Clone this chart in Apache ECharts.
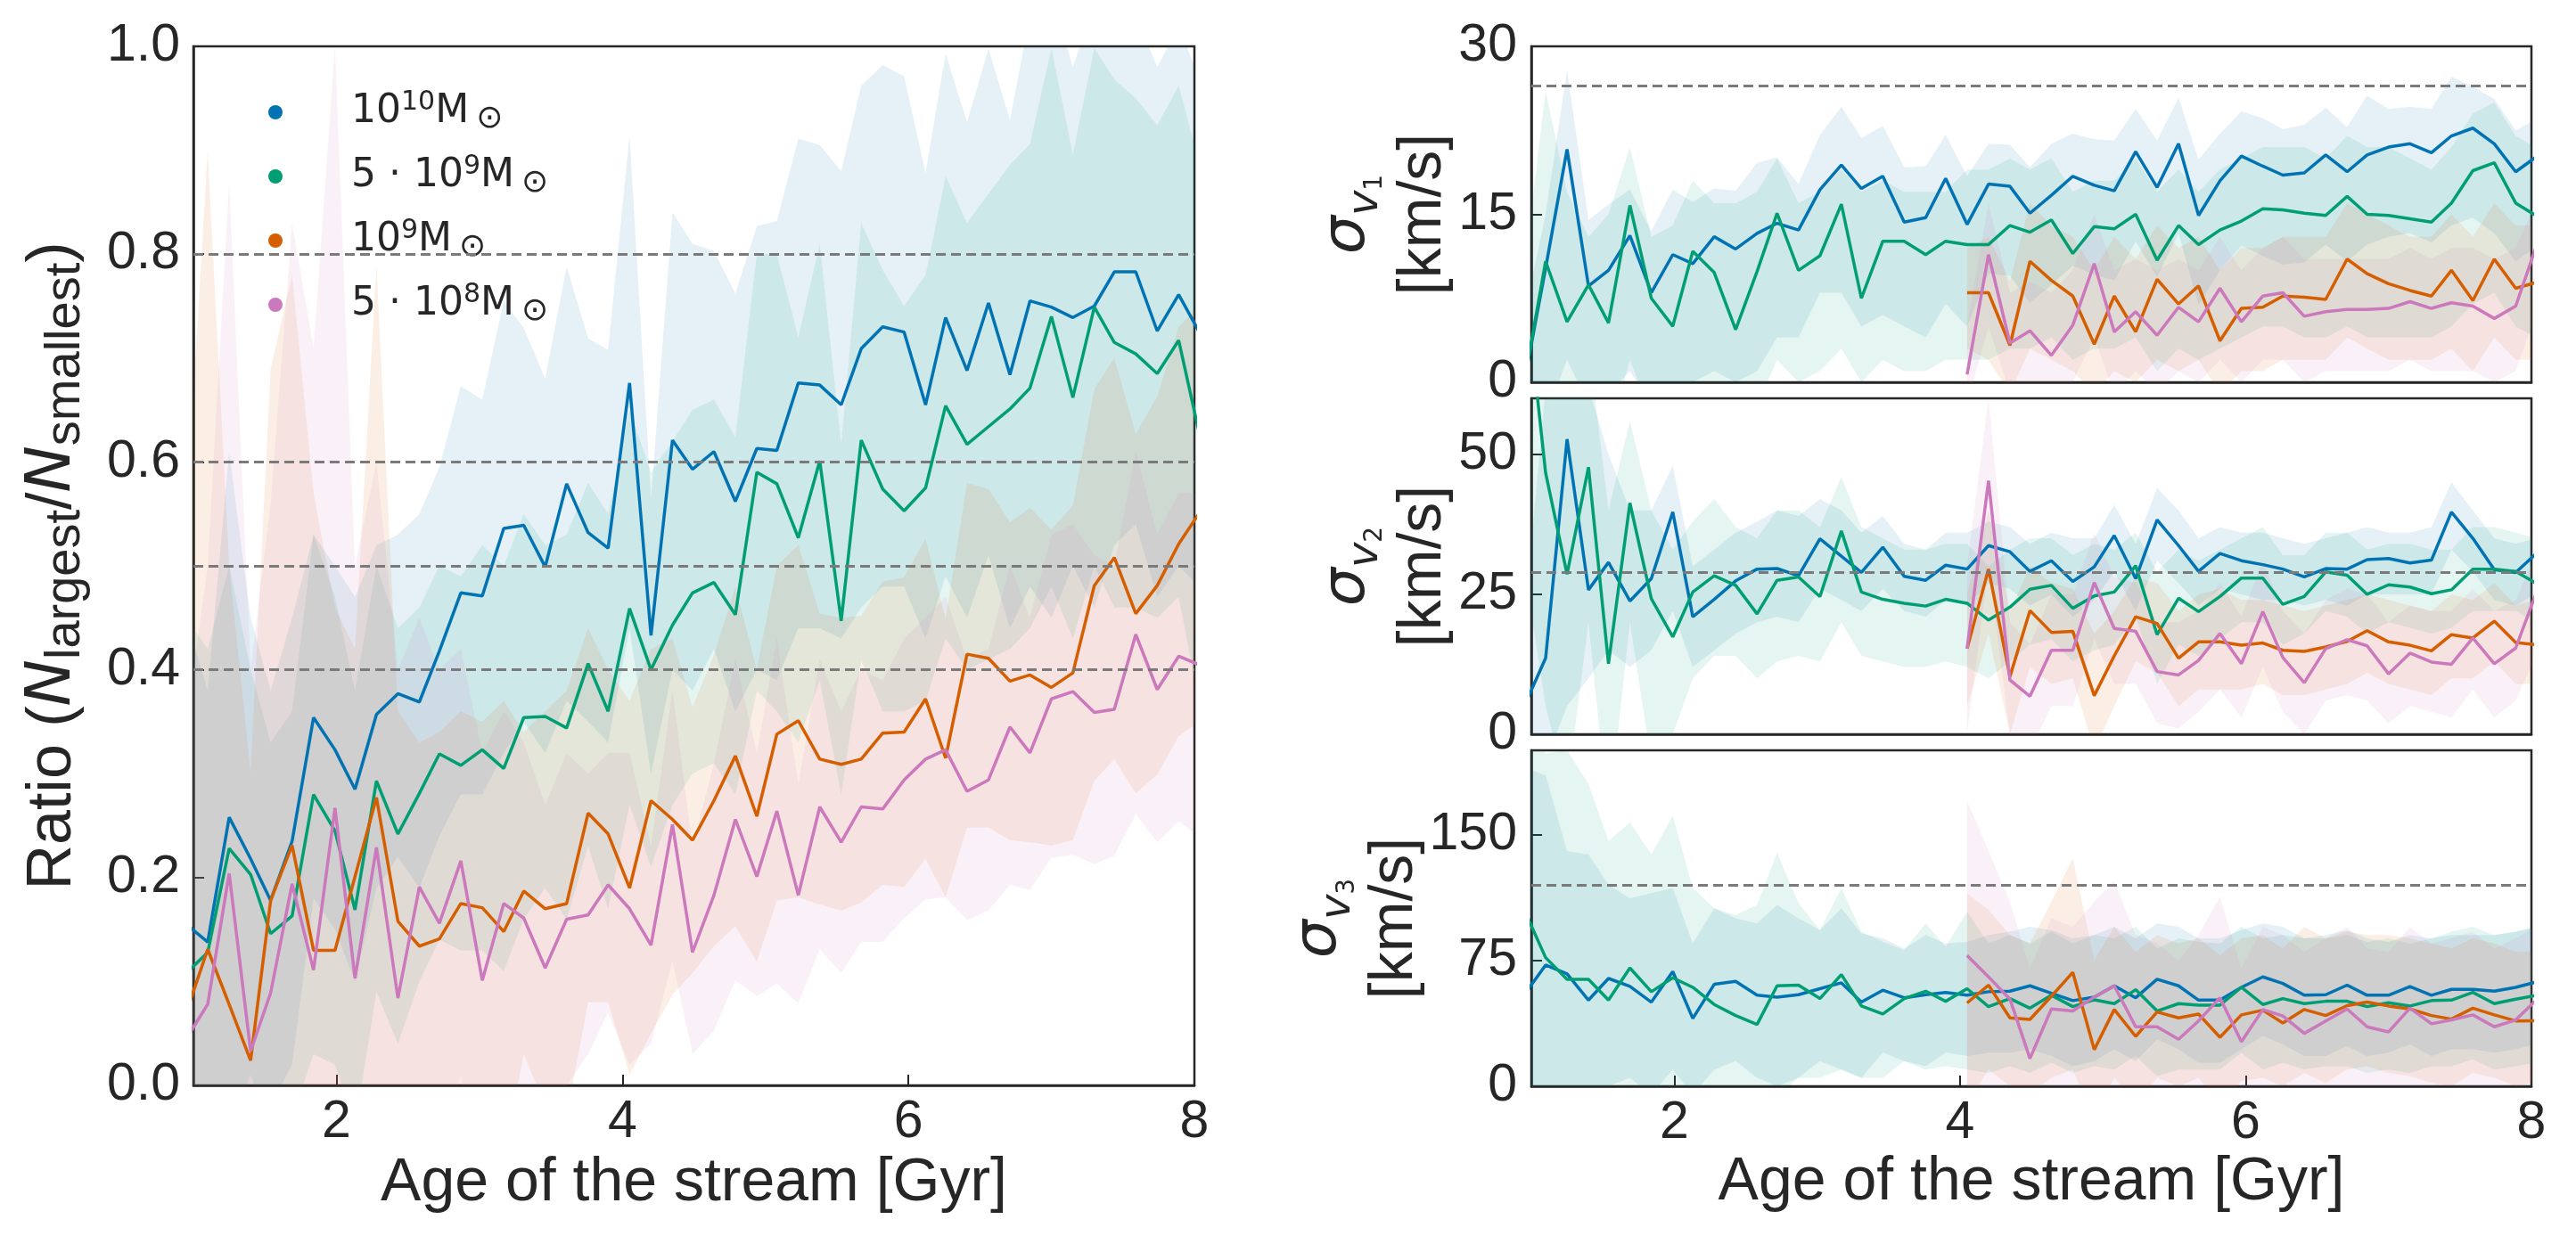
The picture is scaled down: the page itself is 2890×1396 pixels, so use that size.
<!DOCTYPE html>
<html>
<head>
	<meta charset="utf-8" />
	<title>Stream ratio and velocity dispersion</title>
	<script src="https://cdn.jsdelivr.net/npm/echarts@6/dist/echarts.min.js"></script>
	<style>html,body{margin:0;padding:0;background:#fff;}</style>
</head>
<body>
	<div id="main" style="width:2890px;height:1396px;"></div>
	<script type="text/javascript">

		// age of the stream [Gyr] for every snapshot (first and last fall just outside the plotted range)
		var ages = [0.95, 1.10, 1.25, 1.40, 1.54, 1.69, 1.84, 1.99, 2.13, 2.28, 2.43, 2.58, 2.72, 2.87, 3.02, 3.17, 3.31, 3.46, 3.61, 3.76, 3.90, 4.05, 4.20, 4.35, 4.49, 4.64, 4.79, 4.94, 5.08, 5.23, 5.38, 5.53, 5.67, 5.82, 5.97, 6.12, 6.26, 6.41, 6.56, 6.71, 6.85, 7.00, 7.15, 7.30, 7.44, 7.59, 7.74, 7.89, 8.03];
		var lateStart = 21;   // lighter hosts only start at 4.05 Gyr in the dispersion panels

		var massNames = ['1e10', '5e9', '1e9', '5e8'];
		var massColors = ['#0173b2', '#029e73', '#d55e00', '#cc78bc'];

		// ---- left: ratio N_largest / N_smallest ----
		var ratio_m10 = [0.155, 0.138, 0.258, 0.218, 0.178, 0.235, 0.354, 0.323, 0.285, 0.357, 0.377, 0.369, 0.418, 0.474, 0.471, 0.536, 0.539, 0.499, 0.579, 0.532, 0.517, 0.676, 0.433, 0.621, 0.593, 0.610, 0.562, 0.613, 0.611, 0.676, 0.674, 0.655, 0.709, 0.730, 0.725, 0.655, 0.739, 0.688, 0.753, 0.684, 0.755, 0.749, 0.739, 0.750, 0.783, 0.783, 0.726, 0.761, 0.726];
		var ratio_m10_hi = [0.45, 0.38, 0.61, 0.45, 0.38, 0.45, 0.53, 0.50, 0.47, 0.52, 0.53, 0.55, 0.595, 0.673, 0.66, 0.755, 0.729, 0.68, 0.788, 0.719, 0.708, 0.914, 0.565, 0.84, 0.81, 0.803, 0.762, 0.827, 0.832, 0.911, 0.905, 0.88, 0.962, 0.982, 0.971, 0.878, 0.993, 0.927, 0.998, 0.929, 1.03, 1.05, 0.98, 1.04, 1.05, 1.03, 0.98, 1.02, 0.97];
		var ratio_m10_lo = [-0.14, -0.10, -0.09, -0.01, -0.02, 0.02, 0.18, 0.15, 0.10, 0.19, 0.22, 0.19, 0.24, 0.28, 0.28, 0.32, 0.35, 0.32, 0.37, 0.35, 0.33, 0.44, 0.30, 0.40, 0.38, 0.42, 0.36, 0.40, 0.39, 0.44, 0.44, 0.43, 0.46, 0.48, 0.48, 0.43, 0.49, 0.45, 0.51, 0.44, 0.48, 0.45, 0.50, 0.46, 0.52, 0.54, 0.47, 0.50, 0.48];

		var ratio_m5e9 = [0.108, 0.128, 0.228, 0.203, 0.146, 0.163, 0.28, 0.245, 0.169, 0.293, 0.242, 0.281, 0.319, 0.308, 0.323, 0.305, 0.354, 0.355, 0.344, 0.406, 0.36, 0.459, 0.40, 0.443, 0.474, 0.484, 0.453, 0.59, 0.579, 0.527, 0.601, 0.447, 0.621, 0.574, 0.553, 0.575, 0.654, 0.617, 0.634, 0.651, 0.671, 0.74, 0.662, 0.749, 0.715, 0.704, 0.685, 0.717, 0.63];
		var ratio_m5e9_hi = [0.45, 0.42, 0.50, 0.40, 0.33, 0.36, 0.53, 0.47, 0.38, 0.50, 0.44, 0.46, 0.50, 0.49, 0.52, 0.50, 0.55, 0.52, 0.53, 0.58, 0.55, 0.65, 0.59, 0.62, 0.65, 0.66, 0.624, 0.80, 0.80, 0.72, 0.81, 0.617, 0.83, 0.785, 0.75, 0.78, 0.875, 0.83, 0.858, 0.886, 0.906, 0.998, 0.896, 0.998, 0.968, 0.95, 0.924, 0.962, 0.89];
		var ratio_m5e9_lo = [-0.23, -0.16, -0.04, 0.01, -0.04, -0.03, 0.03, 0.02, -0.04, 0.09, 0.04, 0.10, 0.14, 0.13, 0.13, 0.11, 0.16, 0.19, 0.16, 0.23, 0.17, 0.27, 0.21, 0.27, 0.30, 0.31, 0.28, 0.38, 0.36, 0.33, 0.39, 0.28, 0.41, 0.36, 0.36, 0.37, 0.43, 0.40, 0.41, 0.42, 0.44, 0.48, 0.43, 0.50, 0.46, 0.46, 0.45, 0.47, 0.37];

		var ratio_m1e9 = [0.07, 0.131, 0.078, 0.024, 0.178, 0.231, 0.130, 0.130, 0.201, 0.277, 0.158, 0.134, 0.141, 0.175, 0.171, 0.148, 0.187, 0.170, 0.175, 0.262, 0.242, 0.19, 0.274, 0.256, 0.236, 0.274, 0.317, 0.259, 0.338, 0.351, 0.314, 0.309, 0.314, 0.339, 0.34, 0.372, 0.315, 0.415, 0.411, 0.389, 0.395, 0.383, 0.397, 0.481, 0.508, 0.454, 0.481, 0.521, 0.55];
		var ratio_m1e9_hi = [0.55, 0.90, 0.50, 0.30, 0.69, 0.78, 0.57, 0.46, 0.42, 0.79, 0.36, 0.33, 0.34, 0.36, 0.35, 0.37, 0.34, 0.36, 0.38, 0.44, 0.40, 0.37, 0.42, 0.43, 0.364, 0.414, 0.48, 0.40, 0.50, 0.52, 0.454, 0.45, 0.452, 0.485, 0.489, 0.526, 0.449, 0.58, 0.574, 0.542, 0.556, 0.535, 0.558, 0.67, 0.70, 0.627, 0.663, 0.73, 0.75];
		var ratio_m1e9_lo = [-0.30, -0.50, -0.30, -0.25, -0.33, -0.30, -0.30, -0.20, -0.02, -0.24, -0.04, -0.06, -0.06, -0.01, -0.01, -0.07, 0.03, -0.02, -0.03, 0.08, 0.08, 0.01, 0.05, 0.087, 0.108, 0.134, 0.153, 0.119, 0.178, 0.181, 0.174, 0.168, 0.176, 0.193, 0.191, 0.218, 0.181, 0.248, 0.248, 0.236, 0.234, 0.231, 0.236, 0.293, 0.314, 0.281, 0.299, 0.336, 0.35];

		var ratio_m5e8 = [0.045, 0.078, 0.204, 0.033, 0.089, 0.194, 0.111, 0.267, 0.103, 0.229, 0.084, 0.191, 0.156, 0.216, 0.101, 0.175, 0.161, 0.113, 0.160, 0.164, 0.193, 0.17, 0.135, 0.251, 0.128, 0.183, 0.256, 0.201, 0.264, 0.183, 0.268, 0.234, 0.268, 0.266, 0.294, 0.314, 0.323, 0.283, 0.294, 0.345, 0.32, 0.372, 0.379, 0.359, 0.362, 0.434, 0.381, 0.413, 0.405];
		var ratio_m5e8_hi = [0.35, 0.50, 0.87, 0.40, 0.56, 0.83, 0.71, 1.00, 0.50, 0.60, 0.40, 0.45, 0.40, 0.42, 0.32, 0.36, 0.33, 0.27, 0.32, 0.30, 0.32, 0.32, 0.23, 0.38, 0.23, 0.31, 0.41, 0.32, 0.43, 0.29, 0.41, 0.36, 0.40, 0.39, 0.43, 0.45, 0.47, 0.41, 0.42, 0.50, 0.45, 0.53, 0.54, 0.51, 0.50, 0.61, 0.53, 0.57, 0.57];
		var ratio_m5e8_lo = [-0.26, -0.34, -0.46, -0.33, -0.38, -0.44, -0.49, -0.47, -0.29, -0.14, -0.23, -0.07, -0.09, 0.01, -0.12, -0.01, -0.01, -0.04, 0.0, 0.03, 0.07, 0.02, 0.04, 0.12, 0.03, 0.053, 0.101, 0.086, 0.098, 0.079, 0.131, 0.108, 0.138, 0.138, 0.161, 0.179, 0.181, 0.159, 0.168, 0.193, 0.188, 0.219, 0.222, 0.213, 0.221, 0.261, 0.234, 0.254, 0.24];

		var ratioGuides = [0.4, 0.5, 0.6, 0.8];

		// ---- sigma_v1 [km/s] ----
		var v1_m10 = [0, 10.2, 20.8, 8.6, 10.0, 13.1, 8.0, 11.4, 10.6, 13.0, 11.9, 13.3, 14.2, 13.6, 17.2, 19.4, 17.3, 18.4, 14.3, 14.7, 18.2, 14.1, 17.7, 17.5, 15.1, 16.7, 18.4, 17.6, 17.1, 20.6, 17.4, 21.3, 14.9, 18.0, 20.2, 19.3, 18.5, 18.7, 20.3, 18.8, 20.3, 21.0, 21.3, 20.5, 22.0, 22.7, 21.3, 18.8, 20.1];
		var v1_m10_hi = [6, 15, 27.9, 14.5, 15.9, 17.2, 13.5, 17.2, 16.1, 17.3, 17.1, 19.6, 20.1, 17.7, 22.1, 24.6, 21.8, 22.9, 19.2, 19.3, 22.1, 18.4, 21.3, 21.2, 19.2, 21.3, 22.2, 21.7, 21.6, 24.4, 21.6, 25.4, 19.9, 22.2, 24.2, 23.6, 22.6, 23.0, 24.5, 22.8, 25.6, 24.4, 24.6, 24.4, 27.3, 26.4, 25.3, 22.5, 23.5];
		var v1_m10_lo = [-8, -3, 2, -2, -1, 1, -2, 0, 0, 1, 0, 1, 4, 4, 8, 8, 5, 6, 5, 4, 7, 5, 9.7, 9.5, 7.1, 8.7, 10.4, 9.6, 9.1, 12.6, 9.4, 13.3, 6.9, 10.0, 12.2, 11.3, 10.5, 10.7, 12.3, 10.8, 12.3, 13.0, 13.3, 12.5, 14.0, 14.7, 13.3, 10.8, 12.1];

		var v1_m5e9 = [0, 10.8, 5.4, 8.7, 5.3, 15.8, 7.5, 5.0, 11.7, 9.8, 4.7, 9.9, 15.1, 10.0, 11.3, 15.9, 7.5, 12.6, 12.6, 11.4, 12.6, 12.3, 12.3, 14.0, 13.4, 14.5, 11.5, 13.9, 13.7, 15.0, 10.9, 14.0, 12.3, 13.6, 14.4, 15.5, 15.4, 15.1, 14.9, 16.6, 15.0, 14.9, 14.6, 14.3, 16.0, 18.9, 19.6, 16.0, 14.9];
		var v1_m5e9_hi = [10, 26, 17, 13, 15, 21, 13, 14, 18, 16, 16, 17, 20, 16, 17, 19, 17, 18, 17, 17, 17, 19, 19, 20, 19, 20, 17, 18, 18, 20, 17, 19, 17, 19, 20, 21, 21, 21, 20, 22, 21, 21, 20, 19, 21, 24, 25, 22, 21];
		var v1_m5e9_lo = [-10, -5, -5, -3, -5, 2, -3, -5, 0, -1, -4, -2, 2, 0, 1, 3, 0, 2, 1, 1, 2, 2, 2, 3, 3, 4, 2, 3, 3, 4, 1, 3, 2, 3, 4, 5, 5, 4, 4, 5, 4, 4, 4, 4, 5, 7, 8, 5, 4];

		var v1_m1e9 = [8.0, 8.0, 3.3, 10.8, 9.1, 7.7, 3.4, 7.7, 4.5, 9.2, 7.0, 8.6, 3.7, 6.6, 6.7, 7.7, 7.6, 7.4, 11.0, 9.7, 8.8, 8.2, 7.7, 10.0, 7.3, 11.0, 8.4, 8.9];
		var v1_m1e9_hi = [12, 13, 9, 16, 14, 13, 10, 13, 11, 14, 12, 13, 10, 12, 12, 13, 13, 13, 16, 15, 14, 13, 13, 15, 13, 16, 14, 14];
		var v1_m1e9_lo = [3, 2, -1, 3, 2, 1, -1, 1, 0, 2, 1, 2, -1, 1, 1, 2, 2, 2, 4, 3, 2, 2, 2, 3, 1, 4, 2, 2];

		var v1_m5e8 = [0.7, 11.4, 3.5, 4.6, 2.4, 5.1, 10.6, 4.5, 6.3, 4.2, 6.7, 5.4, 8.4, 5.4, 7.7, 8.0, 5.9, 6.3, 6.5, 6.5, 6.6, 7.2, 6.6, 7.1, 6.8, 5.7, 6.8, 12.0];
		var v1_m5e8_hi = [5, 16, 8, 9, 8, 10, 15, 10, 11, 10, 11, 10, 13, 10, 12, 13, 11, 11, 11, 11, 11, 12, 11, 12, 12, 11, 12, 16];
		var v1_m5e8_lo = [-2, 5, -1, 0, -2, 0, 4, -1, 1, -1, 1, 0, 2, 0, 2, 2, 0, 1, 1, 1, 1, 2, 1, 1, 1, 0, 1, 6];

		var v1Guides = [26.5];

		// ---- sigma_v2 [km/s] ----
		var v2_m10 = [5, 13.6, 52.7, 25.8, 30.7, 23.8, 27.8, 39.7, 21.0, 24.1, 27.4, 29.5, 29.6, 28.3, 34.9, 31.8, 28.9, 33.4, 28.2, 27.5, 30.2, 29.5, 33.7, 32.6, 29.1, 31.0, 27.3, 29.9, 35.5, 27.8, 38.3, 33.7, 29.1, 32.3, 31.0, 30.3, 29.5, 28.1, 29.6, 29.5, 31.2, 31.4, 30.6, 31.1, 39.7, 35.0, 29.4, 28.9, 32.2];
		var v2_m10_hi = [20, 62, 65, 62, 50, 40, 40, 48, 30, 33, 36, 38, 40, 39, 42, 40, 36, 39, 34, 33, 36, 36, 38, 37, 34, 36, 35, 35, 41, 34, 44, 40, 35, 37, 36, 36, 35, 34, 35, 36, 37, 36, 36, 37, 45, 40, 35, 34, 35];
		var v2_m10_lo = [-10, -5, 5, 10, 15, 12, 15, 22, 12, 15, 18, 20, 21, 20, 26, 24, 22, 26, 22, 21, 24, 23, 27, 26, 23, 25, 21, 24, 29, 22, 31, 27, 23, 26, 25, 24, 24, 23, 24, 23, 25, 25, 25, 25, 33, 29, 24, 23, 25];

		var v2_m5e9 = [82, 46.7, 28.6, 47.7, 12.6, 41.3, 24.2, 17.4, 25.4, 28.3, 26.6, 21.5, 27.5, 28.1, 24.6, 36.3, 25.4, 24.1, 23.4, 22.9, 24.1, 23.4, 20.4, 22.7, 25.9, 26.6, 22.5, 24.7, 25.4, 30.1, 17.8, 24.3, 21.9, 24.6, 27.9, 27.9, 23.2, 24.6, 29.0, 28.4, 25.0, 26.7, 26.3, 25.1, 25.8, 29.5, 29.5, 29.1, 27.0];
		var v2_m5e9_hi = [100, 90, 70, 70, 40, 56, 40, 33, 38, 42, 37, 35, 40, 40, 37, 46, 37, 35, 33, 33, 34, 34, 30, 33, 35, 35, 32, 34, 33, 36, 29, 33, 31, 33, 35, 37, 32, 32, 36, 36, 33, 34, 34, 33, 33, 37, 37, 36, 35];
		var v2_m5e9_lo = [30, 5, -10, 20, -15, 20, -5, 0, 10, 14, 14, 10, 13, 14, 13, 20, 14, 13, 12, 12, 13, 12, 10, 13, 16, 17, 13, 15, 16, 21, 9, 16, 14, 17, 20, 20, 16, 18, 22, 21, 18, 20, 19, 18, 19, 22, 22, 22, 20];

		var v2_m1e9 = [15.3, 29.5, 10.3, 22.1, 18.2, 18.4, 6.9, 14.0, 21.0, 19.8, 13.6, 16.5, 16.5, 15.9, 16.3, 15.0, 14.8, 15.6, 16.6, 18.5, 16.5, 15.9, 14.9, 17.8, 17.2, 20.2, 16.4, 16.0];
		var v2_m1e9_hi = [25, 40, 22, 30, 27, 26, 18, 22, 28, 27, 22, 25, 26, 24, 24, 23, 22, 23, 24, 25, 24, 23, 22, 25, 24, 27, 23, 24];
		var v2_m1e9_lo = [5, 18, 0, 12, 9, 10, -3, 5, 13, 11, 5, 8, 8, 8, 9, 7, 7, 8, 9, 11, 9, 8, 7, 10, 10, 13, 9, 9];

		var v2_m5e8 = [15.3, 45.3, 9.7, 6.8, 15.0, 15.0, 27.1, 18.9, 18.4, 11.2, 10.6, 13.2, 18.0, 12.6, 21.9, 13.7, 9.2, 15.3, 16.9, 15.8, 10.8, 14.5, 12.9, 12.5, 17.2, 12.6, 15.4, 25.0];
		var v2_m5e8_hi = [30, 60, 20, 16, 25, 25, 36, 28, 27, 20, 20, 22, 27, 21, 31, 22, 18, 24, 26, 25, 20, 23, 22, 22, 26, 22, 24, 32];
		var v2_m5e8_lo = [0, 30, 0, -3, 5, 5, 17, 9, 9, 2, 1, 4, 8, 3, 12, 4, 0, 6, 7, 6, 2, 5, 4, 3, 8, 3, 6, 14];

		var v2Guides = [29];

		// ---- sigma_v3 [km/s] ----
		var v3_m10 = [54.5, 72.2, 66.9, 51.3, 64.2, 59.5, 50.1, 68.3, 40.4, 60.7, 62.5, 54.2, 53.1, 54.5, 58.1, 61.6, 50.1, 57.2, 52.7, 54.5, 55.8, 54.2, 56.3, 56.6, 59.8, 55.4, 51.0, 53.1, 59.8, 52.7, 63.7, 59.8, 51.3, 51.3, 58.9, 65.1, 61.2, 54.2, 54.5, 60.2, 54.2, 54.2, 59.3, 54.2, 57.7, 57.7, 56.6, 58.9, 62.0];
		var v3_m10_hi = [190, 185, 140, 138, 120, 112, 115, 118, 85, 106, 100, 97, 108, 100, 93, 106, 91, 88, 82, 90, 85, 86, 90, 92, 95, 93, 88, 90, 95, 88, 97, 95, 88, 88, 93, 97, 95, 88, 90, 93, 88, 86, 90, 88, 90, 90, 90, 92, 95];
		var v3_m10_lo = [-50, -30, -10, -20, 0, 5, -5, 10, -5, 10, 15, 5, 0, 5, 15, 10, 5, 20, 15, 12, 20, 18, 20, 20, 22, 18, 12, 15, 22, 15, 28, 22, 14, 14, 22, 30, 25, 18, 18, 24, 18, 20, 25, 18, 22, 22, 20, 22, 25];

		var v3_m5e9 = [105, 76.6, 63.7, 63.7, 51.3, 70.4, 56.3, 64.6, 58.9, 48.7, 42.1, 36.8, 59.8, 60.2, 52.2, 66.5, 47.8, 43.0, 52.2, 56.6, 50.6, 58.1, 47.4, 52.2, 46.5, 54.2, 47.4, 51.5, 49.2, 57.5, 44.8, 49.2, 48.3, 48.3, 58.9, 48.7, 52.2, 49.2, 50.6, 50.6, 47.4, 49.7, 47.8, 51.0, 51.3, 55.9, 49.2, 51.9, 54.0];
		var v3_m5e9_hi = [210, 198, 200, 180, 146, 157, 138, 161, 118, 106, 102, 108, 139, 109, 93, 118, 92, 86, 81, 97, 83, 104, 85, 90, 85, 92, 85, 90, 88, 95, 82, 88, 86, 85, 95, 88, 90, 88, 88, 90, 86, 88, 85, 88, 92, 95, 90, 92, 95];
		var v3_m5e9_lo = [0, -20, -30, -20, -20, -10, -15, -10, 0, -5, -10, -15, -5, 5, 5, 10, 5, 5, 15, 10, 12, 10, 8, 12, 8, 14, 8, 12, 10, 18, 6, 10, 10, 10, 20, 10, 14, 10, 12, 12, 8, 10, 8, 12, 12, 16, 10, 12, 14];

		var v3_m1e9 = [49.6, 60.2, 40.7, 39.8, 53.6, 67.8, 21.8, 45.7, 29.7, 44.2, 40.7, 43.0, 29.2, 42.5, 45.3, 37.7, 45.7, 42.1, 48.0, 50.1, 47.8, 46.0, 42.1, 40.0, 46.5, 42.5, 38.9, 39.0];
		var v3_m1e9_hi = [115, 105, 90, 85, 110, 136, 75, 95, 80, 90, 85, 88, 78, 88, 90, 82, 95, 88, 92, 90, 90, 88, 85, 82, 88, 85, 80, 80];
		var v3_m1e9_lo = [-10, 10, 0, -5, 5, 10, -20, 5, -10, 5, 0, 5, -10, 3, 5, 0, 8, 2, 10, 12, 8, 6, 2, 0, 8, 5, 0, 2];

		var v3_m5e8 = [77.9, 65.1, 51.9, 16.5, 46.0, 44.8, 53.1, 59.8, 35.4, 35.4, 28.0, 38.9, 52.7, 26.5, 45.7, 41.8, 31.5, 38.9, 46.0, 35.4, 32.4, 46.5, 37.2, 39.5, 42.5, 35.4, 39.5, 51.0];
		var v3_m5e8_hi = [170, 140, 110, 70, 100, 95, 110, 122, 90, 85, 75, 90, 113, 70, 95, 90, 80, 88, 95, 82, 80, 95, 85, 88, 92, 82, 88, 95];
		var v3_m5e8_lo = [-10, -10, -5, -30, 0, 0, 0, 0, -15, -10, -15, -10, -5, -15, 0, -5, -15, -5, 0, -10, -15, 0, -10, -5, 0, -10, -5, 5];

		var v3Guides = [120];

		var xTicks = [2, 4, 6, 8];

		//-----------------------------------------------------------
		var myChart = echarts.init(document.getElementById('main'));

		var SANS = 'Liberation Sans';   // axis text
		var MATH = 'DejaVu Sans';       // math symbols and legend
		var INK = '#262626';

		function pts(vals, start) {
			return vals.map(function (v, i) { return [ages[start + i], v]; });
		}

		// shaded spread between lo and hi, drawn as one polygon through the axis scales
		function band(g, lo, hi, start, color) {
			var rows = lo.map(function (l, i) { return [ages[start + i], l, hi[i]]; });
			return {
				type: 'custom', xAxisIndex: g, yAxisIndex: g, clip: true, silent: true, z: 1,
				data: rows, encode: { x: 0, y: [1, 2] },
				renderItem: function (params, api) {
					if (params.dataIndex !== 1) return null;
					var top = [], bottom = [];
					rows.forEach(function (r) {
						top.push(api.coord([r[0], r[2]]));
						bottom.unshift(api.coord([r[0], r[1]]));
					});
					return {
						type: 'polygon',
						shape: { points: top.concat(bottom) },
						style: { fill: color, opacity: 0.1 }
					};
				}
			};
		}

		function meanLine(g, idx, vals, start) {
			return {
				type: 'line', name: massNames[idx], xAxisIndex: g, yAxisIndex: g,
				data: pts(vals, start), symbol: 'none', z: 3,
				lineStyle: { color: massColors[idx], width: 3.5 }, itemStyle: { color: massColors[idx] }
			};
		}

		function guides(g, levels) {
			return {
				type: 'line', xAxisIndex: g, yAxisIndex: g, data: [], silent: true, z: 2,
				markLine: {
					symbol: ['none', 'none'], silent: true, label: { show: false },
					lineStyle: { color: '#7a7a7a', type: [11, 6], width: 3 },
					data: levels.map(function (v) { return { yAxis: v }; })
				}
			};
		}

		var panels = [
			{ sets: [[ratio_m10, ratio_m10_lo, ratio_m10_hi, 0], [ratio_m5e9, ratio_m5e9_lo, ratio_m5e9_hi, 0], [ratio_m1e9, ratio_m1e9_lo, ratio_m1e9_hi, 0], [ratio_m5e8, ratio_m5e8_lo, ratio_m5e8_hi, 0]], lines: ratioGuides },
			{ sets: [[v1_m10, v1_m10_lo, v1_m10_hi, 0], [v1_m5e9, v1_m5e9_lo, v1_m5e9_hi, 0], [v1_m1e9, v1_m1e9_lo, v1_m1e9_hi, lateStart], [v1_m5e8, v1_m5e8_lo, v1_m5e8_hi, lateStart]], lines: v1Guides },
			{ sets: [[v2_m10, v2_m10_lo, v2_m10_hi, 0], [v2_m5e9, v2_m5e9_lo, v2_m5e9_hi, 0], [v2_m1e9, v2_m1e9_lo, v2_m1e9_hi, lateStart], [v2_m5e8, v2_m5e8_lo, v2_m5e8_hi, lateStart]], lines: v2Guides },
			{ sets: [[v3_m10, v3_m10_lo, v3_m10_hi, 0], [v3_m5e9, v3_m5e9_lo, v3_m5e9_hi, 0], [v3_m1e9, v3_m1e9_lo, v3_m1e9_hi, lateStart], [v3_m5e8, v3_m5e8_lo, v3_m5e8_hi, lateStart]], lines: v3Guides }
		];

		var series = [];
		panels.forEach(function (p, g) {
			p.sets.forEach(function (s, i) {
				series.push(band(g, s[1], s[2], s[3], massColors[i]));
			});
			series.push(guides(g, p.lines));
			p.sets.forEach(function (s, i) {
				series.push(meanLine(g, i, s[0], s[3]));
			});
		});

		var legendText = {
			'1e10': '10{p|10}M{o|⊙}',
			'5e9': '5 · 10{p|9}M{o|⊙}',
			'1e9': '10{p|9}M{o|⊙}',
			'5e8': '5 · 10{p|8}M{o|⊙}'
		};

		var tickLabel = { fontSize: 59, fontFamily: SANS, color: INK, margin: 12 };
		var nameStyle = { fontSize: 68, fontFamily: SANS, color: INK, lineHeight: 68 };
		var sigmaRich = {
			s: { fontSize: 68, fontStyle: 'italic', fontFamily: MATH, color: INK, lineHeight: 90 },
			v: { fontSize: 48, fontStyle: 'italic', fontFamily: MATH, color: INK, lineHeight: 56, verticalAlign: 'bottom' },
			k: { fontSize: 28, fontFamily: MATH, color: INK, lineHeight: 14, verticalAlign: 'bottom' },
			u: { fontSize: 68, fontFamily: SANS, color: INK, lineHeight: 80 }
		};

		function gridBox(left, top, width, height) {
			return { left: left, top: top, width: width, height: height, show: true, borderColor: INK, borderWidth: 2.5, backgroundColor: 'rgba(0,0,0,0)' };
		}

		function rightX(g, withLabels) {
			return {
				type: 'value', gridIndex: g, min: 1, max: 8,
				axisLine: { show: true, lineStyle: { color: INK, width: 2.5 } },
				axisTick: { show: withLabels, inside: true, length: 12, lineStyle: { color: INK, width: 2 }, customValues: [2, 4, 6] },
				axisLabel: Object.assign({ show: withLabels, customValues: xTicks }, tickLabel),
				splitLine: { show: false },
				name: withLabels ? 'Age of the stream [Gyr]' : '', nameLocation: 'middle', nameGap: 74, nameTextStyle: nameStyle
			};
		}

		function rightY(g, max, ticks, sub) {
			return {
				type: 'value', gridIndex: g, min: 0, max: max,
				axisLine: { show: true, lineStyle: { color: INK, width: 2.5 } },
				axisTick: { show: true, inside: true, length: 12, lineStyle: { color: INK, width: 2 }, customValues: ticks },
				axisLabel: Object.assign({ customValues: ticks }, tickLabel, { margin: 16 }),
				splitLine: { show: false },
				name: '{s|σ}{v|v}{k|' + sub + '}\n{u|[km/s]}', nameLocation: 'middle', nameRotate: 90, nameGap: 81,
				nameTextStyle: { rich: sigmaRich, align: 'center' }
			};
		}

		var option = {
			animation: false,
			backgroundColor: '#ffffff',
			grid: [
				gridBox(217, 52, 1123, 1166),
				gridBox(1718, 52, 1122, 377),
				gridBox(1718, 447, 1122, 377),
				gridBox(1718, 842, 1122, 377)
			],
			legend: {
				data: massNames, orient: 'vertical', left: 296, top: 95,
				icon: 'circle', itemWidth: 16, itemHeight: 16, itemGap: 20,
				formatter: function (n) { return legendText[n]; },
				textStyle: {
					fontSize: 44, fontFamily: MATH, color: INK, lineHeight: 52, padding: [0, 0, 0, 72],
					rich: {
						p: { fontSize: 30, fontFamily: MATH, color: INK, lineHeight: 26, verticalAlign: 'top' },
						o: { fontSize: 36, fontFamily: MATH, color: INK, lineHeight: 34, verticalAlign: 'bottom', padding: [0, 0, 0, 8] }
					}
				}
			},
			xAxis: [
				{
					type: 'value', gridIndex: 0, min: 1, max: 8,
					axisLine: { show: true, lineStyle: { color: INK, width: 2.5 } },
					axisTick: { show: true, inside: true, length: 12, lineStyle: { color: INK, width: 2 }, customValues: [2, 4, 6] },
					axisLabel: Object.assign({ customValues: xTicks }, tickLabel),
					splitLine: { show: false },
					name: 'Age of the stream [Gyr]', nameLocation: 'middle', nameGap: 74, nameTextStyle: nameStyle
				},
				rightX(1, false),
				rightX(2, false),
				rightX(3, true)
			],
			yAxis: [
				{
					type: 'value', gridIndex: 0, min: 0, max: 1, interval: 0.2,
					axisLine: { show: true, lineStyle: { color: INK, width: 2.5 } },
					axisTick: { show: true, inside: true, length: 12, lineStyle: { color: INK, width: 2 } },
					axisLabel: Object.assign({ formatter: function (v) { return v.toFixed(1); } }, tickLabel, { margin: 15 }),
					splitLine: { show: false },
					name: '{n|Ratio (}{i|N}{s|largest}{n|/}{i|N}{s|smallest}{n|)}',
					nameLocation: 'middle', nameRotate: 90, nameGap: 115,
					nameTextStyle: {
						rich: {
							n: { fontSize: 70, fontFamily: SANS, color: INK, lineHeight: 84 },
							i: { fontSize: 70, fontStyle: 'italic', fontFamily: MATH, color: INK, lineHeight: 84 },
							s: { fontSize: 56, fontFamily: SANS, color: INK, lineHeight: 60, verticalAlign: 'bottom' }
						}
					}
				},
				rightY(1, 30, [0, 15, 30], '1'),
				rightY(2, 60, [0, 25, 50], '2'),
				rightY(3, 200, [0, 75, 150], '3')
			],
			series: series
		};

		myChart.setOption(option);

	</script>
</body>
</html>
